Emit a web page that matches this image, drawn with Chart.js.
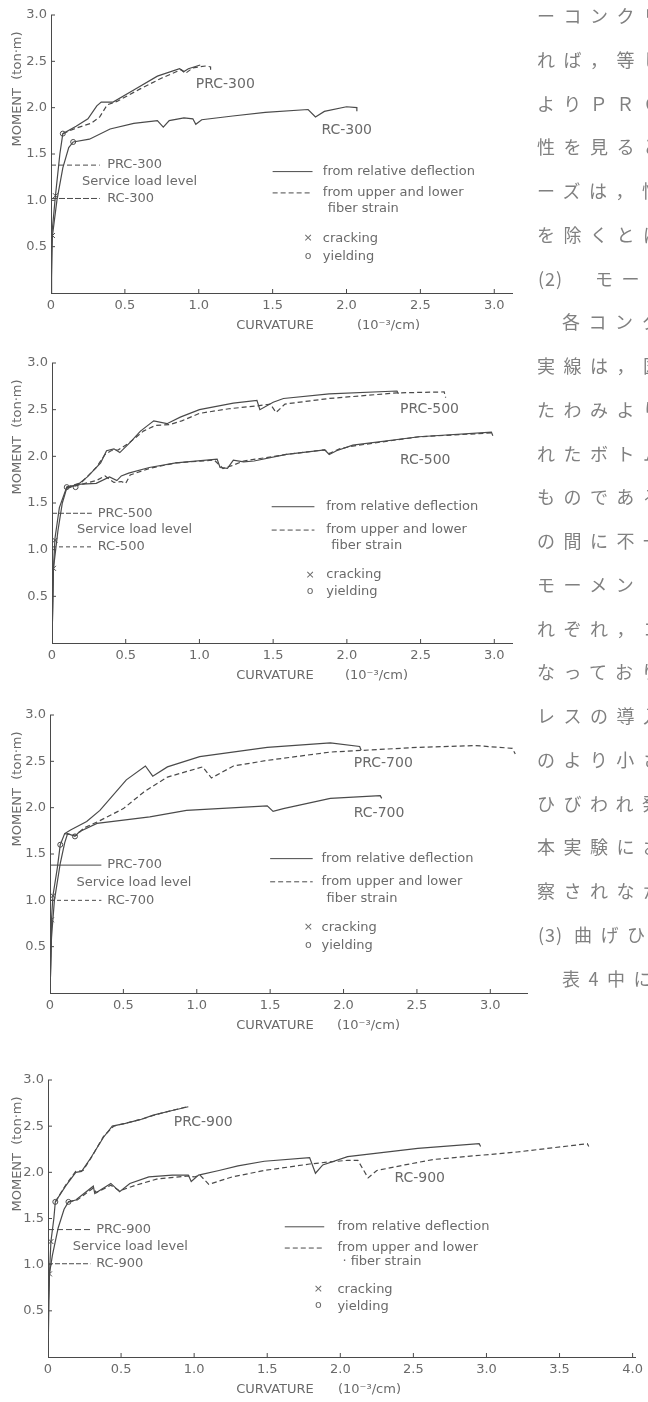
<!DOCTYPE html>
<html>
<head>
<meta charset="utf-8">
<script src="https://cdn.jsdelivr.net/npm/chart.js@4.4.0/dist/chart.umd.min.js"></script>
<style>
body { margin: 0; width: 648px; height: 1402px; overflow: hidden; background: #fff; position: relative; }
.box { position: absolute; left: 0; width: 648px; }
.jp { position: absolute; white-space: nowrap; font-family: "Noto Sans CJK JP"; font-size: 18px; letter-spacing: 8.5px; color: #808080; line-height: 20px; }
.jp.num { letter-spacing: 1px; }
</style>
</head>
<body>
<div class="box" style="top:0;height:340px"><canvas id="c300"></canvas></div>
<div class="box" style="top:340px;height:350px"><canvas id="c500"></canvas></div>
<div class="box" style="top:690px;height:350px"><canvas id="c700"></canvas></div>
<div class="box" style="top:1040px;height:362px"><canvas id="c900"></canvas></div>
<div id="text"></div>
<script>
// curvature (10^-3/cm), moment (ton-m)
const prc300Rel = [[0,0],[0.004,0.6],[0.03,1.05],[0.06,1.5],[0.08,1.72],[0.17,1.8],[0.25,1.88],[0.31,2.02],[0.34,2.06],[0.42,2.06],[0.56,2.19],[0.72,2.34],[0.87,2.42],[0.9,2.39],[0.93,2.42],[1.01,2.46]];
const prc300Up = [[0.08,1.72],[0.17,1.78],[0.27,1.83],[0.33,1.9],[0.38,2.03],[0.45,2.07],[0.6,2.2],[0.75,2.32],[0.88,2.41],[0.91,2.37],[0.96,2.43],[1.05,2.45],[1.08,2.44],[1.08,2.41]];
const rc300Rel = [[0,0],[0.01,0.62],[0.04,1.0],[0.08,1.35],[0.12,1.57],[0.15,1.63],[0.26,1.66],[0.4,1.77],[0.56,1.83],[0.72,1.86],[0.76,1.79],[0.8,1.86],[0.9,1.89],[0.96,1.88],[0.98,1.82],[1.02,1.87],[1.23,1.91],[1.45,1.95],[1.74,1.98],[1.79,1.9],[1.85,1.96],[2.0,2.01],[2.07,2.0],[2.07,1.96]];
const crack300 = [[0.01,0.62],[0.03,1.05]];
const yield300 = [[0.08,1.72],[0.15,1.63]];
const service300 = [1.38, 1.02];

const prc500Rel = [[0,0],[0.01,0.8],[0.02,1.12],[0.05,1.45],[0.1,1.67],[0.17,1.69],[0.24,1.78],[0.33,1.93],[0.37,2.06],[0.42,2.08],[0.46,2.04],[0.53,2.15],[0.6,2.27],[0.69,2.38],[0.78,2.35],[0.87,2.42],[1.0,2.5],[1.23,2.57],[1.39,2.6],[1.41,2.5],[1.5,2.58],[1.57,2.62],[1.88,2.67],[2.34,2.7],[2.35,2.67]];
const prc500Up = [[0.1,1.67],[0.2,1.72],[0.3,1.88],[0.36,2.02],[0.4,2.06],[0.45,2.07],[0.52,2.14],[0.62,2.27],[0.7,2.33],[0.8,2.34],[0.88,2.38],[1.0,2.46],[1.2,2.51],[1.39,2.54],[1.48,2.56],[1.52,2.47],[1.58,2.56],[1.88,2.62],[2.34,2.68],[2.66,2.69],[2.67,2.63]];
const rc500Rel = [[0,0],[0.01,0.8],[0.04,1.2],[0.07,1.5],[0.1,1.66],[0.17,1.7],[0.3,1.71],[0.39,1.78],[0.44,1.74],[0.47,1.79],[0.52,1.82],[0.66,1.88],[0.84,1.93],[1.12,1.97],[1.14,1.88],[1.19,1.87],[1.23,1.96],[1.3,1.94],[1.37,1.95],[1.59,2.02],[1.85,2.07],[1.88,2.02],[1.93,2.06],[2.04,2.12],[2.49,2.21],[2.98,2.26],[2.99,2.22]];
const rc500Up = [[0.1,1.66],[0.2,1.7],[0.3,1.74],[0.36,1.79],[0.42,1.72],[0.47,1.73],[0.5,1.71],[0.53,1.8],[0.66,1.87],[0.84,1.93],[1.1,1.96],[1.16,1.87],[1.22,1.9],[1.3,1.95],[1.59,2.02],[1.85,2.07],[1.88,2.03],[1.95,2.08],[2.04,2.11],[2.49,2.21],[2.98,2.25]];
const crack500 = [[0.01,0.8],[0.02,1.1]];
const yield500 = [[0.1,1.67],[0.16,1.67]];
const service500 = [1.39, 1.03];

const prc700Rel = [[0,0],[0.01,0.6],[0.01,0.79],[0.02,1.05],[0.05,1.35],[0.07,1.6],[0.1,1.72],[0.14,1.76],[0.25,1.85],[0.34,1.97],[0.52,2.3],[0.65,2.45],[0.7,2.34],[0.8,2.44],[1.02,2.55],[1.48,2.65],[1.91,2.7],[2.11,2.66],[2.12,2.62]];
const prc700Up = [[0.1,1.72],[0.18,1.7],[0.23,1.78],[0.34,1.86],[0.5,1.99],[0.64,2.17],[0.8,2.33],[1.04,2.44],[1.1,2.32],[1.25,2.45],[1.48,2.51],[1.91,2.6],[2.5,2.65],[2.9,2.67],[3.15,2.64],[3.17,2.58]];
const rc700Rel = [[0,0],[0.01,0.6],[0.03,1.0],[0.07,1.4],[0.1,1.62],[0.12,1.72],[0.17,1.69],[0.2,1.74],[0.32,1.83],[0.68,1.9],[0.93,1.97],[1.48,2.02],[1.52,1.96],[1.59,1.99],[1.91,2.1],[2.25,2.13],[2.26,2.1]];
const crack700 = [[0.01,0.79],[0.02,1.05]];
const yield700 = [[0.07,1.6],[0.17,1.69]];
const service700 = [1.38, 1.0];

const prc900Rel = [[0,0],[0,0.5],[0.01,0.9],[0.02,1.25],[0.04,1.5],[0.05,1.68],[0.12,1.85],[0.19,2.0],[0.23,2.01],[0.29,2.15],[0.38,2.38],[0.44,2.5],[0.53,2.53],[0.63,2.57],[0.72,2.62],[0.85,2.67],[0.96,2.71]];
const prc900Up = [[0.05,1.68],[0.12,1.86],[0.19,2.01],[0.24,2.02],[0.3,2.17],[0.38,2.39],[0.45,2.5],[0.55,2.54],[0.65,2.58],[0.75,2.63],[0.85,2.67],[0.95,2.71]];
const rc900Rel = [[0,0],[0.01,0.9],[0.03,1.1],[0.07,1.4],[0.11,1.6],[0.14,1.68],[0.19,1.7],[0.31,1.85],[0.32,1.77],[0.43,1.88],[0.49,1.79],[0.56,1.88],[0.69,1.95],[0.85,1.97],[0.96,1.97],[0.98,1.9],[1.03,1.97],[1.17,2.02],[1.3,2.07],[1.48,2.12],[1.79,2.16],[1.83,1.99],[1.88,2.08],[2.05,2.17],[2.53,2.26],[2.95,2.31],[2.96,2.28]];
const rc900Up = [[0.14,1.68],[0.2,1.7],[0.31,1.83],[0.33,1.78],[0.43,1.86],[0.49,1.8],[0.6,1.86],[0.75,1.93],[0.96,1.96],[1.0,1.95],[1.04,1.97],[1.1,1.87],[1.26,1.95],[1.48,2.02],[1.79,2.09],[1.91,2.11],[2.05,2.13],[2.12,2.13],[2.19,1.94],[2.25,2.02],[2.44,2.08],[2.64,2.14],[3.21,2.22],[3.69,2.31],[3.7,2.28]];
const crack900 = [[0.01,0.9],[0.02,1.25]];
const yield900 = [[0.05,1.68],[0.14,1.68]];
const service900 = [1.38, 1.01];

const yTicks = [0.5, 1.0, 1.5, 2.0, 2.5, 3.0];

const jpLines = [
  'ーコンクリ', 'れば，等し', 'よりＰＲＣ', '性を見ると', 'ーズは，性', 'を除くとほ',
  ['(2)', 'モーメ'], '各コンク', '実線は，図', 'たわみより', 'れたボトム', 'ものである',
  'の間に不一', 'モーメント', 'れぞれ，コ', 'なっており', 'レスの導入', 'のより小さ',
  'ひびわれ発', '本実験にお', '察されなか', ['(3)', '曲げひ'], '表4中に'
];

const ink = '#4a4a4a';
const textInk = '#6a6a6a';
Chart.defaults.font.family = '"DejaVu Sans"';
Chart.defaults.font.size = 13;
Chart.defaults.color = textInk;

function curve(points, dashed) {
  return {
    data: points.map(p => ({ x: p[0], y: p[1] })),
    showLine: true, borderColor: ink, borderWidth: 1.2,
    borderDash: dashed ? [5, 3] : [], pointRadius: 0, tension: 0
  };
}
function marks(points, style) {
  return {
    data: points.map(p => ({ x: p[0], y: p[1] })),
    showLine: false, pointStyle: style, pointRadius: style === 'circle' ? 2.5 : 3.5,
    borderColor: ink, backgroundColor: '#fff', borderWidth: 1
  };
}

const decor = {
  id: 'decor',
  afterDraw(chart, args, o) {
    const { ctx, chartArea: a, scales: { x, y } } = chart;
    const X = v => x.getPixelForValue(v), Y = v => y.getPixelForValue(v);
    ctx.save();
    ctx.strokeStyle = ink;
    ctx.fillStyle = textInk;
    ctx.lineWidth = 1;
    const seg = (x0, y0, x1, y1, dash) => {
      ctx.setLineDash(dash || []);
      ctx.beginPath(); ctx.moveTo(x0, y0); ctx.lineTo(x1, y1); ctx.stroke();
      ctx.setLineDash([]);
    };
    // inward ticks
    yTicks.forEach(v => seg(a.left, Y(v), a.left + 4, Y(v)));
    for (let v = 0.5; v <= x.max + 1e-6; v += 0.5) seg(X(v), a.bottom, X(v), a.bottom - 4);

    ctx.textBaseline = 'middle';
    ctx.font = '13px "DejaVu Sans"';
    ctx.textAlign = 'center';
    ctx.fillText('CURVATURE', 275, a.bottom + 33);
    ctx.textAlign = 'left';
    ctx.fillText('(10⁻³/cm)', o.unitX, a.bottom + 33);
    ctx.save();
    ctx.translate(18, a.top + 74);
    ctx.rotate(-Math.PI / 2);
    ctx.textAlign = 'center';
    ctx.fillText('MOMENT  (ton·m)', 0, 0);
    ctx.restore();

    // service load level
    const s = o.service;
    const yp = Y(s.levels[0]), yr = Y(s.levels[1]);
    seg(a.left, yp, X(s.lineEnd), yp, s.prcDash);
    seg(a.left, yr, X(s.lineEnd), yr, s.rcDash);
    ctx.fillText('PRC-' + o.name, X(s.textX), yp);
    ctx.fillText('RC-' + o.name, X(s.textX), yr);
    ctx.fillText('Service load level', X(s.serviceX), (yp + yr) / 2);

    // curve labels
    ctx.font = '14px "DejaVu Sans"';
    ctx.fillText('PRC-' + o.name, X(o.prcLabel[0]), Y(o.prcLabel[1]));
    ctx.fillText('RC-' + o.name, X(o.rcLabel[0]), Y(o.rcLabel[1]));

    // legend
    const g = o.legend;
    ctx.font = '13px "DejaVu Sans"';
    seg(X(g.x0), Y(g.rows[0]), X(g.x1), Y(g.rows[0]));
    seg(X(g.x0), Y(g.rows[1]), X(g.x1), Y(g.rows[1]), [5, 3]);
    ctx.fillText('from relative deflection', X(g.tx), Y(g.rows[0]));
    ctx.fillText('from upper and lower', X(g.tx), Y(g.rows[1]));
    ctx.fillText(g.fiber, X(g.tx) + 5, Y(g.rows[2]));
    ctx.fillText('cracking', X(g.tx), Y(g.rows[3]));
    ctx.fillText('yielding', X(g.tx), Y(g.rows[4]));
    ctx.font = '11px "DejaVu Sans"';
    ctx.textAlign = 'center';
    ctx.fillText('×', X(g.mx), Y(g.rows[3]));
    ctx.fillText('o', X(g.mx), Y(g.rows[4]) - 1);
    ctx.restore();
  }
};

const panels = [
  { id: 'c300', name: '300', h: 340, area: { left: 51, top: 15, right: 512, bottom: 293 }, xMax: 3.12,
    sets: [curve(prc300Rel), curve(prc300Up, true), curve(rc300Rel), marks(crack300, 'crossRot'), marks(yield300, 'circle')],
    service: { levels: service300, lineEnd: 0.33, textX: 0.38, serviceX: 0.21, prcDash: [5, 3], rcDash: [6, 2] },
    prcLabel: [0.98, 2.25], rcLabel: [1.83, 1.76], unitX: 357,
    legend: { x0: 1.50, x1: 1.77, tx: 1.84, mx: 1.74, rows: [1.31, 1.08, 0.91, 0.59, 0.39], fiber: 'fiber strain' } },
  { id: 'c500', name: '500', h: 350, area: { left: 52, top: 23, right: 512, bottom: 303 }, xMax: 3.12,
    sets: [curve(prc500Rel), curve(prc500Up, true), curve(rc500Rel), curve(rc500Up, true), marks(crack500, 'crossRot'), marks(yield500, 'circle')],
    service: { levels: service500, lineEnd: 0.27, textX: 0.31, serviceX: 0.17, prcDash: [5, 2], rcDash: [4, 3] },
    prcLabel: [2.36, 2.50], rcLabel: [2.36, 1.96], unitX: 345,
    legend: { x0: 1.49, x1: 1.78, tx: 1.86, mx: 1.75, rows: [1.46, 1.21, 1.04, 0.73, 0.55], fiber: 'fiber strain' } },
  { id: 'c700', name: '700', h: 350, area: { left: 50, top: 25, right: 527, bottom: 303 }, xMax: 3.25,
    sets: [curve(prc700Rel), curve(prc700Up, true), curve(rc700Rel), marks(crack700, 'crossRot'), marks(yield700, 'circle')],
    service: { levels: service700, lineEnd: 0.35, textX: 0.39, serviceX: 0.18, prcDash: [], rcDash: [4, 3] },
    prcLabel: [2.07, 2.48], rcLabel: [2.07, 1.94], unitX: 337,
    legend: { x0: 1.50, x1: 1.79, tx: 1.85, mx: 1.76, rows: [1.45, 1.20, 1.02, 0.71, 0.51], fiber: 'fiber strain' } },
  { id: 'c900', name: '900', h: 362, area: { left: 48, top: 40, right: 640, bottom: 317 }, xMax: 4.02,
    sets: [curve(prc900Rel), curve(prc900Up, true), curve(rc900Rel), curve(rc900Up, true), marks(crack900, 'crossRot'), marks(yield900, 'circle')],
    service: { levels: service900, lineEnd: 0.29, textX: 0.33, serviceX: 0.17, prcDash: [6, 3], rcDash: [5, 2] },
    prcLabel: [0.86, 2.54], rcLabel: [2.37, 1.94], unitX: 338,
    legend: { x0: 1.62, x1: 1.89, tx: 1.98, mx: 1.85, rows: [1.41, 1.18, 1.03, 0.73, 0.55], fiber: '· fiber strain' } }
];

panels.forEach(p => {
  new Chart(document.getElementById(p.id), {
    type: 'scatter',
    data: { datasets: p.sets },
    options: {
      responsive: true,
      maintainAspectRatio: false,
      animation: false,
      events: [],
      layout: { padding: { left: 0, top: p.area.top, right: 648 - p.area.right, bottom: 0 } },
      plugins: { legend: { display: false }, tooltip: { enabled: false }, decor: p },
      scales: {
        x: {
          type: 'linear', min: 0, max: p.xMax,
          grid: { display: false, drawTicks: false },
          border: { color: ink, width: 1 },
          ticks: { stepSize: 0.5, includeBounds: false, padding: 5, maxRotation: 0,
            callback: v => v === 0 ? '0' : v.toFixed(1) },
          afterFit: s => { s.height = p.h - p.area.bottom; }
        },
        y: {
          type: 'linear', min: 0, max: 3.0,
          grid: { display: false, drawTicks: false },
          border: { color: ink, width: 1 },
          ticks: { stepSize: 0.5, padding: 4, callback: v => v === 0 ? '' : v.toFixed(1) },
          afterFit: s => { s.width = p.area.left; }
        }
      }
    },
    plugins: [decor]
  });
});

// Japanese body text column at the right edge
const holder = document.getElementById('text');
jpLines.forEach((line, i) => {
  const top = 15 + 43.75 * i - 10;
  const put = (txt, left, cls) => {
    const d = document.createElement('div');
    d.className = 'jp' + (cls ? ' ' + cls : '');
    d.style.top = top + 'px';
    d.style.left = left + 'px';
    d.textContent = txt;
    holder.appendChild(d);
  };
  if (Array.isArray(line)) {
    put(line[0], 538, 'num');
    put(line[1], i === 6 ? 595 : 574);
  } else if (i === 7 || i === 22) {
    put(line, 562);
  } else {
    put(line, 537);
  }
});
</script>
</body>
</html>
